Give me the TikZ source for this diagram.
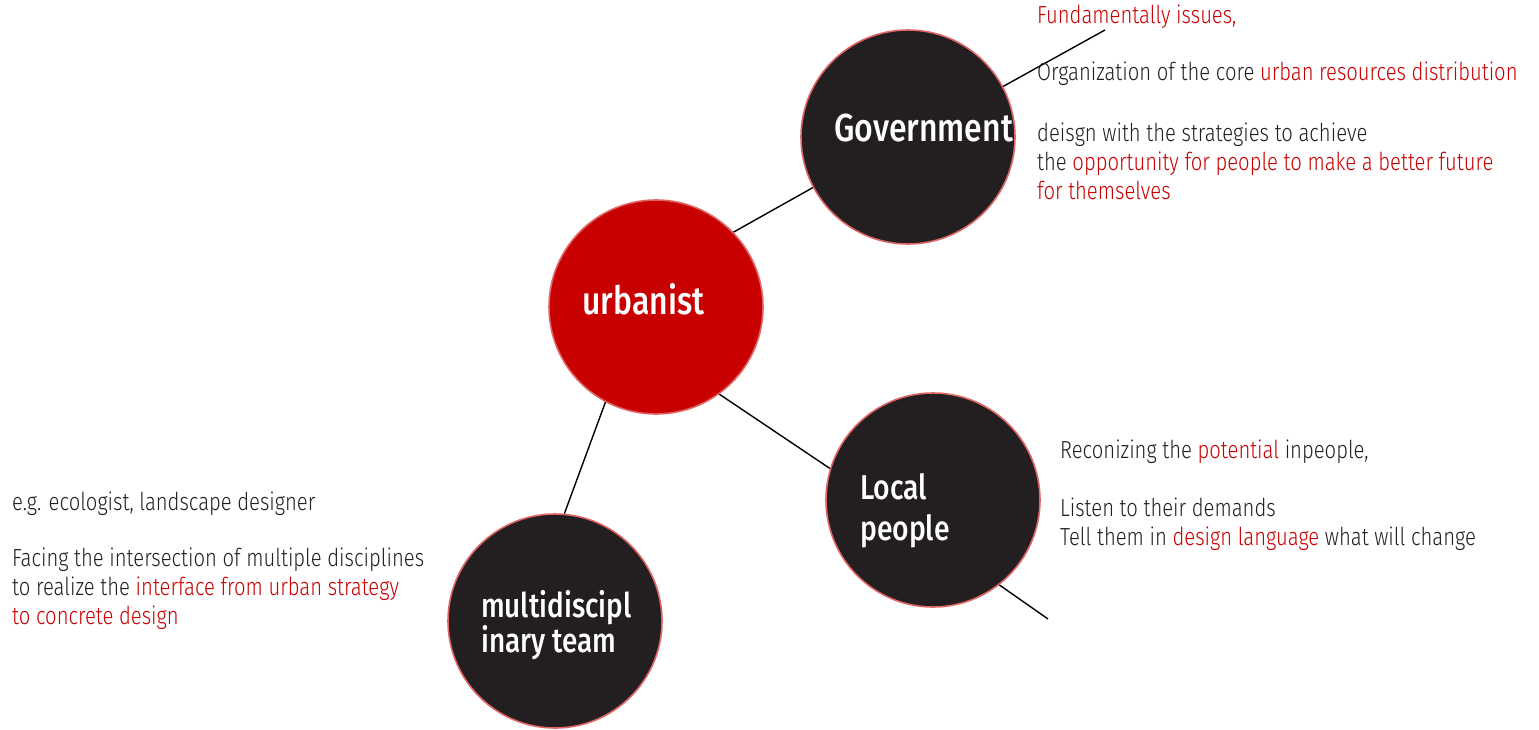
\documentclass[tikz,border=0pt]{standalone}
\usepackage{fontspec}
\setmainfont{Fira Sans Light}[FakeStretch=0.82,BoldFont={Fira Sans Medium}]
\definecolor{dark}{HTML}{231F20}
\definecolor{hot}{HTML}{C80000}
\definecolor{rim}{HTML}{E06666}
\begin{document}
\begin{tikzpicture}[x=1pt,y=-1pt,
  bubble/.style={circle,draw=rim,line width=1.6pt,minimum size=214pt,inner sep=0pt},
  darkbub/.style={bubble,fill=dark},
  redbub/.style={bubble,fill=hot},
  lbl/.style={text=white,font=\fontsize{39}{41}\selectfont\bfseries,anchor=west,align=left,inner sep=0pt},
  body/.style={text=dark,font=\fontsize{24.7}{29}\selectfont,anchor=west,align=left,inner sep=0pt},
  link/.style={line width=1.4pt,black}]
\useasboundingbox (0,0) rectangle (1539,730);
\node[darkbub] (gov) at (908,137) {};
\node[redbub] (urb) at (656,307) {};
\node[darkbub] (loc) at (933,500) {};
\node[darkbub] (mul) at (555,621) {};
\coordinate (govend) at (1105,30);
\coordinate (locend) at (1048,619);
\draw[link] (urb.44) -- (gov.208);
\draw[link] (gov.28.7) -- (govend);
\draw[link] (urb.-54) -- (loc.163.6);
\draw[link] (loc.-52) -- (locend);
\draw[link] (urb.-118) -- (mul.85);
\node[lbl] (govt) at (834,128) {Government};
\node[lbl] (urbt) at (582,299) {urbanist};
\node[lbl,font=\fontsize{34.5}{41}\selectfont\bfseries] (loct) at (860,511) {Local\\people};
\node[lbl,font=\fontsize{34}{34}\selectfont\bfseries] (mult) at (481,625) {multidiscipl\\inary team};
\node[body] (g1) at (1037,17) {\textcolor{hot}{Fundamentally issues,}};
\node[body] (g2) at (1037,74) {Organization of the core \textcolor{hot}{urban resources distribution}};
\node[body] (g3) at (1037,161) {deisgn with the strategies to achieve\\the \textcolor{hot}{opportunity for people to make a better future}\\\textcolor{hot}{for themselves}};
\node[body] (l1) at (1060,452) {Reconizing the \textcolor{hot}{potential} inpeople,};
\node[body] (l2) at (1060,524) {Listen to their demands\\Tell them in \textcolor{hot}{design language} what will change};
\node[body] (m1) at (12,504) {e.g. ecologist, landscape designer};
\node[body] (m2) at (12,589) {Facing the intersection of multiple disciplines\\to realize the \textcolor{hot}{interface from urban strategy}\\\textcolor{hot}{to concrete design}};
\end{tikzpicture}
\end{document}
